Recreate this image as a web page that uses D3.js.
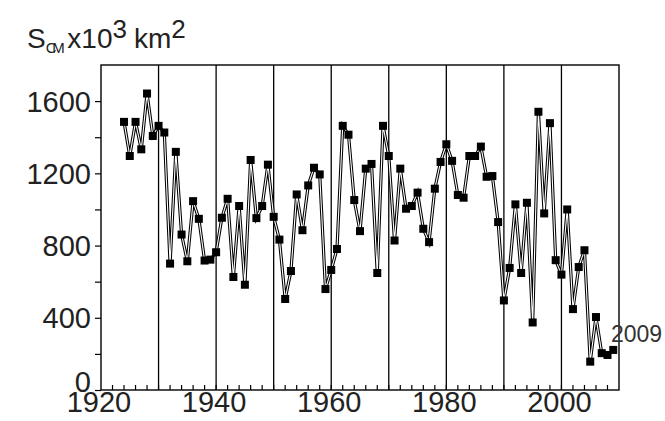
<!DOCTYPE html>
<html>
<head>
<meta charset="utf-8">
<script src="https://cdn.jsdelivr.net/npm/d3@7"></script>
<style>
  body { margin: 0; background: #fff; }
  svg text { font-family: "Liberation Sans", Arial, sans-serif; }
</style>
</head>
<body>
<svg id="chart" width="665" height="421"></svg>
<script>
// yearly area values, 10^3 km2
let years = [1924,1925,1926,1927,1928,1929,1930,1931,1932,1933,1934,1935,1936,1937,1938,1939,
             1940,1941,1942,1943,1944,1945,1946,1947,1948,1949,1950,1951,1952,1953,1954,1955,
             1956,1957,1958,1959,1960,1961,1962,1963,1964,1965,1966,1967,1968,1969,1970,1971,
             1972,1973,1974,1975,1976,1977,1978,1979,1980,1981,1982,1983,1984,1985,1986,1987,
             1988,1989,1990,1991,1992,1993,1994,1995,1996,1997,1998,1999,2000,2001,2002,2003,
             2004,2005,2006,2007,2008,2009];
let area = [1485,1296,1485,1333,1642,1407,1463,1426,700,1319,861,713,1046,948,717,722,
            763,954,1059,626,1019,583,1274,952,1019,1248,959,833,504,659,1083,885,
            1133,1231,1194,559,665,781,1463,1414,1052,880,1226,1252,648,1463,1296,828,
            1226,1004,1019,1093,893,819,1115,1263,1361,1269,1080,1065,1296,1296,1348,1181,
            1185,930,496,676,1028,648,1037,374,1541,978,1478,719,639,1000,448,681,
            774,157,404,204,194,222];
let yTicks = [0,200,400,600,800,1000,1200,1400,1600];
let yLabels = [0,400,800,1200,1600];
let xLabels = [1920,1940,1960,1980,2000];
let decades = [1930,1940,1950,1960,1970,1980,1990,2000];
let xMinor = d3.range(1922, 2010, 2);

let svg = d3.select('#chart');
let x = d3.scaleLinear().domain([1920, 2010]).range([101, 619]);
let y = d3.scaleLinear().domain([0, 1800]).range([390, 65]);

let data = years.map((yr, i) => ({year: yr, v: area[i]}));

// decade grid lines
svg.append('g').selectAll('line').data(decades).enter().append('line')
    .attr('x1', d => x(d)).attr('x2', d => x(d))
    .attr('y1', y(0)).attr('y2', y(1800))
    .attr('stroke', '#000').attr('stroke-width', 1.3);

// frame
svg.append('rect')
    .attr('x', x(1920)).attr('y', y(1800))
    .attr('width', x(2010) - x(1920)).attr('height', y(0) - y(1800))
    .attr('fill', 'none').attr('stroke', '#000').attr('stroke-width', 1.4);

// left axis: ticks outward, labels every 400
let yAxis = d3.axisLeft(y).tickValues(yTicks).tickSize(6).tickFormat(d => yLabels.includes(d) ? d : '');
let gy = svg.append('g').attr('transform', 'translate(' + x(1920) + ',0)').call(yAxis);
gy.select('.domain').remove();
gy.selectAll('line').attr('stroke', '#000').attr('stroke-width', 1.2);
gy.selectAll('text').attr('x', -10).attr('font-size', 29).attr('fill', '#222')
    .attr('dy', d => d === 0 ? '0.05em' : '0.35em')
    .style('font-family', '"Liberation Sans", Arial, sans-serif');

// bottom axis: minor ticks inside, labels every 20 years
let gx = svg.append('g').attr('transform', 'translate(0,' + y(0) + ')');
gx.selectAll('line.minor').data(xMinor).enter().append('line')
    .attr('class', 'minor')
    .attr('x1', d => x(d)).attr('x2', d => x(d))
    .attr('y1', 0).attr('y2', -5)
    .attr('stroke', '#000').attr('stroke-width', 1.2);
gx.selectAll('text').data(xLabels).enter().append('text')
    .attr('x', d => x(d) - 2).attr('y', 22)
    .attr('text-anchor', 'middle').attr('font-size', 29).attr('fill', '#222')
    .text(d => d);

// series line, drawn hollow like the original
let line = d3.line().x(d => x(d.year)).y(d => y(d.v));
svg.append('path').datum(data).attr('d', line)
    .attr('fill', 'none').attr('stroke', '#000').attr('stroke-width', 3.2)
    .attr('stroke-linejoin', 'miter');
svg.append('path').datum(data).attr('d', line)
    .attr('fill', 'none').attr('stroke', '#fff').attr('stroke-width', 1.1);

// markers
svg.append('g').selectAll('rect').data(data).enter().append('rect')
    .attr('x', d => x(d.year) - 4).attr('y', d => y(d.v) - 4)
    .attr('width', 8).attr('height', 8).attr('fill', '#000');

// end label
svg.append('text').attr('x', 611).attr('y', 342)
    .attr('font-size', 23).attr('fill', '#333').text('2009');

// title
let title = svg.append('text').attr('x', 27).attr('y', 48).attr('font-size', 28).attr('fill', '#222');
title.append('tspan').text('S');
title.append('tspan').attr('dy', 5).attr('font-size', 15).attr('textLength', 19).text('CM');
title.append('tspan').attr('dx', 7).attr('dy', -5).text('x10');
title.append('tspan').attr('dy', -10).attr('font-size', 26).text('3');
title.append('tspan').attr('dx', 7).attr('dy', 10).text('km');
title.append('tspan').attr('dy', -10).attr('font-size', 26).text('2');
</script>
</body>
</html>
